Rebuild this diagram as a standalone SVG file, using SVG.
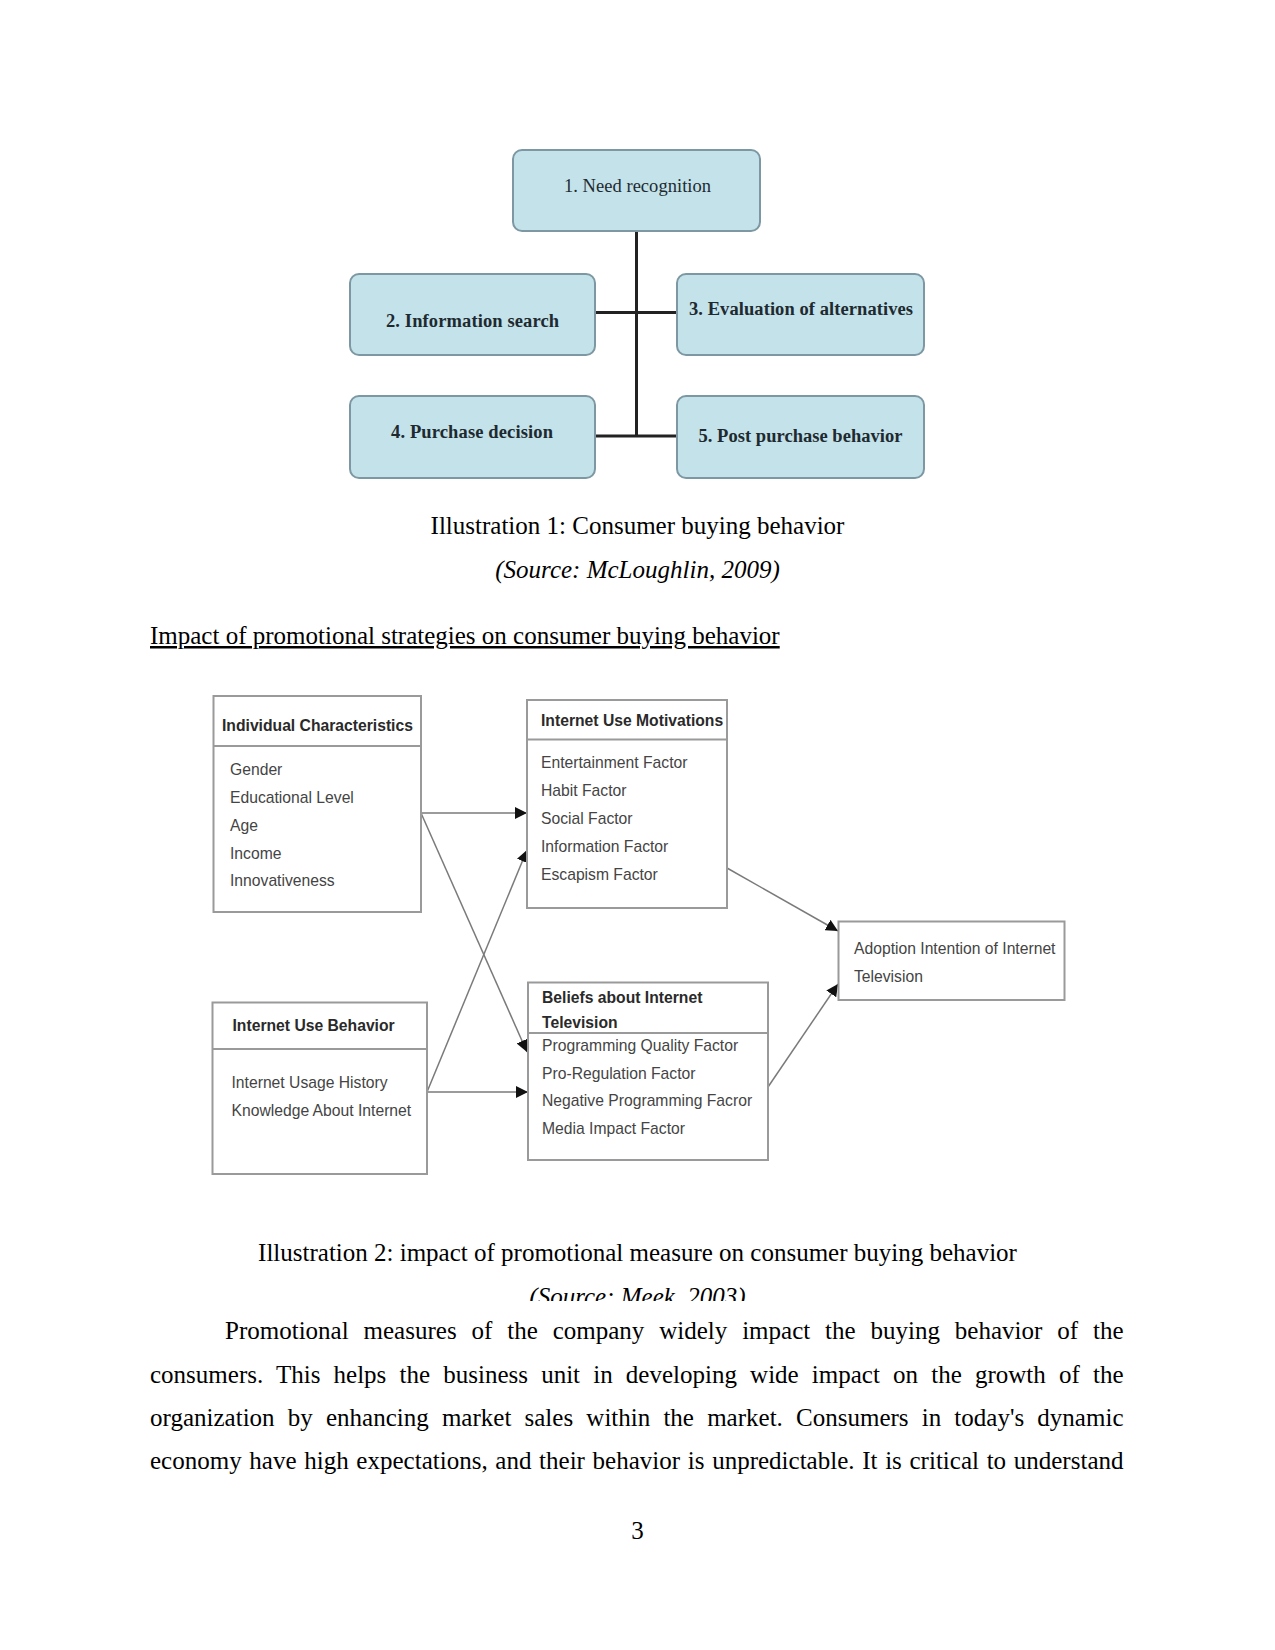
<svg xmlns="http://www.w3.org/2000/svg" width="1275" height="1650" viewBox="0 0 1275 1650">
<defs>
<style>
.serif{font-family:"Liberation Serif","Times New Roman",serif;fill:#000;font-size:25px}
.it{font-style:italic}
.pbox{fill:#c3e2ea;stroke:#7d98a2;stroke-width:2}
.ptxt{font-family:"Liberation Serif","Times New Roman",serif;font-size:18.5px;fill:#1e2a30;text-anchor:middle}
.b{font-weight:bold}
.tree{stroke:#222;stroke-width:3;fill:none}
.fbox{fill:#fff;stroke:#9a9a9a;stroke-width:2}
.fdiv{stroke:#9a9a9a;stroke-width:2}
.ftitle{font-family:"Liberation Sans",Arial,sans-serif;font-size:15.7px;font-weight:bold;fill:#2a2a2a}
.fitem{font-family:"Liberation Sans",Arial,sans-serif;font-size:15.7px;fill:#444}
.conn{stroke:#7a7a7a;stroke-width:1.5;fill:none;marker-end:url(#arr)}
</style>
<marker id="arr" markerUnits="userSpaceOnUse" markerWidth="13" markerHeight="12" refX="12" refY="6" orient="auto">
<path d="M0,0 L12,6 L0,12 z" fill="#111"/>
</marker>
<clipPath id="cut"><rect x="0" y="1270" width="1275" height="31"/></clipPath>
</defs>

<g id="tree-connectors">
<path class="tree" d="M636.5,231 V436 M595,312.5 H677 M595,436 H677"/>
</g>
<g id="need-recognition">
<rect class="pbox" x="513" y="150" width="247" height="81" rx="9"/>
<text class="ptxt" x="637.5" y="192" textLength="147">1. Need recognition</text>
</g>
<g id="information-search">
<rect class="pbox" x="350" y="274" width="245" height="81" rx="9"/>
<text class="ptxt b" x="472.5" y="327" textLength="173">2. Information search</text>
</g>
<g id="evaluation-alternatives">
<rect class="pbox" x="677" y="274" width="247" height="81" rx="9"/>
<text class="ptxt b" x="801" y="315" textLength="224">3. Evaluation of alternatives</text>
</g>
<g id="purchase-decision">
<rect class="pbox" x="350" y="396" width="245" height="82" rx="9"/>
<text class="ptxt b" x="472" y="438" textLength="162">4. Purchase decision</text>
</g>
<g id="post-purchase">
<rect class="pbox" x="677" y="396" width="247" height="82" rx="9"/>
<text class="ptxt b" x="800.5" y="441.5" textLength="204">5. Post purchase behavior</text>
</g>

<text class="serif" x="637.5" y="534" text-anchor="middle">Illustration 1: Consumer buying behavior</text>
<text class="serif it" x="637.5" y="578" text-anchor="middle">(Source: McLoughlin, 2009)</text>
<text class="serif" x="150" y="644" text-decoration="underline">Impact of promotional strategies on consumer buying behavior</text>

<g id="flow-connectors">
<line class="conn" x1="421" y1="813" x2="527" y2="813"/>
<line class="conn" x1="421" y1="813" x2="527" y2="1052"/>
<line class="conn" x1="427" y1="1092" x2="528" y2="1092"/>
<line class="conn" x1="427" y1="1092" x2="527" y2="850"/>
<line class="conn" x1="727" y1="868" x2="838" y2="931"/>
<line class="conn" x1="768" y1="1087" x2="838" y2="984"/>
</g>

<g id="individual-characteristics">
<rect class="fbox" x="213.5" y="696" width="207.5" height="216"/>
<line class="fdiv" x1="213.5" y1="746" x2="421" y2="746"/>
<text class="ftitle" x="222" y="730.5">Individual Characteristics</text>
<text class="fitem" x="230" y="774.5">Gender</text>
<text class="fitem" x="230" y="802.5">Educational Level</text>
<text class="fitem" x="230" y="830.5">Age</text>
<text class="fitem" x="230" y="858.5">Income</text>
<text class="fitem" x="230" y="886">Innovativeness</text>
</g>
<g id="internet-use-motivations">
<rect class="fbox" x="527" y="700" width="200" height="208"/>
<line class="fdiv" x1="527" y1="739.5" x2="727" y2="739.5"/>
<text class="ftitle" x="541" y="726">Internet Use Motivations</text>
<text class="fitem" x="541" y="768">Entertainment Factor</text>
<text class="fitem" x="541" y="795.5">Habit Factor</text>
<text class="fitem" x="541" y="824">Social Factor</text>
<text class="fitem" x="541" y="851.5">Information Factor</text>
<text class="fitem" x="541" y="879.5">Escapism Factor</text>
</g>
<g id="internet-use-behavior">
<rect class="fbox" x="212.5" y="1002.5" width="214.5" height="171.5"/>
<line class="fdiv" x1="212.5" y1="1049" x2="427" y2="1049"/>
<text class="ftitle" x="232.5" y="1031">Internet Use Behavior</text>
<text class="fitem" x="231.5" y="1088">Internet Usage History</text>
<text class="fitem" x="231.5" y="1115.5">Knowledge About Internet</text>
</g>
<g id="beliefs-internet-tv">
<rect class="fbox" x="528" y="982.5" width="240" height="177.5"/>
<line class="fdiv" x1="528" y1="1033" x2="768" y2="1033"/>
<text class="ftitle" x="542" y="1002.5">Beliefs about Internet</text>
<text class="ftitle" x="542" y="1028">Television</text>
<text class="fitem" x="542" y="1051">Programming Quality Factor</text>
<text class="fitem" x="542" y="1078.5">Pro-Regulation Factor</text>
<text class="fitem" x="542" y="1106">Negative Programming Facror</text>
<text class="fitem" x="542" y="1134">Media Impact Factor</text>
</g>
<g id="adoption-intention">
<rect class="fbox" x="838.5" y="921.5" width="226" height="78.5"/>
<text class="fitem" x="854" y="953.5">Adoption Intention of Internet</text>
<text class="fitem" x="854" y="981.5">Television</text>
</g>

<text class="serif" x="637.5" y="1261" text-anchor="middle">Illustration 2: impact of promotional measure on consumer buying behavior</text>
<text class="serif it" x="637.5" y="1305" text-anchor="middle" clip-path="url(#cut)">(Source: Meek, 2003)</text>

<text class="serif" x="225" y="1339" word-spacing="8.6" textLength="898.5" lengthAdjust="spacing">Promotional measures of the company widely impact the buying behavior of the</text>
<text class="serif" x="150" y="1382.5" word-spacing="6.9" textLength="973.5" lengthAdjust="spacing">consumers. This helps the business unit in developing wide impact on the growth of the</text>
<text class="serif" x="150" y="1426" word-spacing="6.9" textLength="973.5" lengthAdjust="spacing">organization by enhancing market sales within the market. Consumers in today's dynamic</text>
<text class="serif" x="150" y="1469" word-spacing="1.4" textLength="973.5" lengthAdjust="spacing">economy have high expectations, and their behavior is unpredictable. It is critical to understand</text>
<text class="serif" x="637.5" y="1539" text-anchor="middle">3</text>
</svg>
